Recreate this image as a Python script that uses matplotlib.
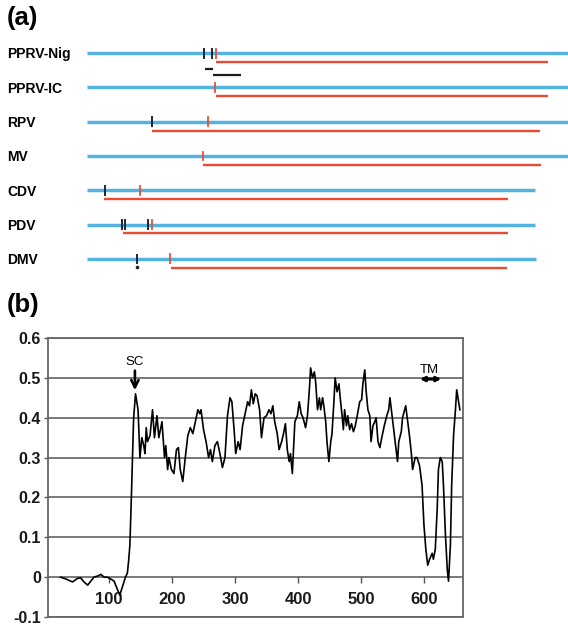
"""Two-panel figure: (a) ORF maps of morbillivirus H genes, (b) hydrophobicity profile."""
import matplotlib as mpl
mpl.use("Agg")
import matplotlib.pyplot as plt

# ---- panel (a): gene maps (arbitrary length units) ----
viruses = ["PPRV-Nig", "PPRV-IC", "RPV", "MV", "CDV", "PDV", "DMV"]
gene_end = [481, 481, 481, 481, 448, 448, 449]
orf_start = [129, 129, 65, 116, 17, 36, 84]
orf_end = [461, 461, 453, 454, 421, 421, 420]
black_marks = [[117, 125], [], [65], [], [18], [35, 38, 61], [50]]
red_marks = [129, 128, 121, 116, 53, 65, 83]
# short black bars under PPRV-Nig: (start, end, row offset)
extra_bars = [(118, 126, 0.47), (126, 154, 0.64)]

# ---- panel (b): hydrophobicity profile ----
pos = [23, 32, 42, 50, 55, 60, 66, 71, 76, 82, 87, 92, 97, 103, 108, 113, 117,
       122, 126, 129, 131, 133, 135, 137, 139, 142, 146, 149, 152, 155, 157,
       159, 161, 165, 169, 172, 176, 179, 184, 188, 190, 193, 195, 199, 203,
       207, 210, 213, 217, 221, 225, 229, 233, 237, 241, 244, 246, 250, 254,
       258, 261, 264, 268, 272, 276, 280, 284, 288, 292, 295, 299, 301, 305,
       308, 312, 316, 320, 323, 326, 329, 332, 335, 339, 342, 346, 350, 354,
       357, 360, 363, 367, 370, 374, 377, 380, 383, 386, 388, 391, 395, 399,
       402, 405, 408, 412, 415, 418, 420, 423, 426, 428, 431, 434, 436, 439,
       441, 444, 446, 449, 452, 454, 457, 459, 462, 465, 467, 470, 472, 474,
       477, 479, 482, 485, 488, 491, 494, 498, 501, 503, 506, 508, 511, 514,
       516, 519, 522, 524, 527, 530, 533, 537, 541, 544, 546, 549, 552, 555,
       558, 560, 564, 566, 571, 573, 577, 580, 582, 586, 589, 593, 597, 600,
       603, 606, 609, 613, 615, 618, 621, 623, 626, 629, 631, 634, 637, 639,
       642, 644, 647, 650, 652, 655, 657]
hydro = [0.00, -0.005, -0.012, -0.003, -0.002, -0.012, -0.02, -0.01, 0.0,
         0.003, 0.007, 0.0, 0.0, -0.005, -0.01, -0.03, -0.045, -0.02, 0.0,
         0.01, 0.04, 0.08, 0.18, 0.29, 0.40, 0.46, 0.42, 0.30, 0.35, 0.33,
         0.31, 0.375, 0.34, 0.355, 0.42, 0.35, 0.405, 0.35, 0.39, 0.30, 0.33,
         0.27, 0.30, 0.27, 0.26, 0.32, 0.325, 0.27, 0.24, 0.30, 0.355, 0.375,
         0.36, 0.39, 0.42, 0.41, 0.42, 0.37, 0.34, 0.30, 0.32, 0.29, 0.33,
         0.34, 0.31, 0.275, 0.30, 0.405, 0.45, 0.44, 0.36, 0.31, 0.34, 0.32,
         0.38, 0.41, 0.44, 0.43, 0.47, 0.435, 0.46, 0.455, 0.42, 0.35, 0.40,
         0.405, 0.42, 0.41, 0.43, 0.39, 0.36, 0.32, 0.34, 0.36, 0.385, 0.32,
         0.29, 0.31, 0.26, 0.39, 0.405, 0.44, 0.41, 0.40, 0.375, 0.405, 0.47,
         0.525, 0.50, 0.515, 0.49, 0.42, 0.45, 0.42, 0.45, 0.43, 0.39, 0.34,
         0.29, 0.34, 0.36, 0.44, 0.50, 0.465, 0.485, 0.45, 0.405, 0.37, 0.42,
         0.38, 0.405, 0.37, 0.385, 0.365, 0.38, 0.405, 0.44, 0.445, 0.485,
         0.52, 0.47, 0.42, 0.405, 0.34, 0.38, 0.39, 0.40, 0.34, 0.325, 0.35,
         0.38, 0.405, 0.42, 0.45, 0.41, 0.37, 0.33, 0.29, 0.34, 0.365, 0.40,
         0.43, 0.405, 0.355, 0.31, 0.27, 0.30, 0.30, 0.28, 0.23, 0.13, 0.07,
         0.03, 0.045, 0.06, 0.045, 0.07, 0.17, 0.27, 0.30, 0.29, 0.23, 0.11,
         0.02, -0.01, 0.08, 0.23, 0.355, 0.42, 0.47, 0.44, 0.42]
xticks_b = [100, 200, 300, 400, 500, 600]
yticks_b = [-0.1, 0, 0.1, 0.2, 0.3, 0.4, 0.5, 0.6]

BLUE = "#55b3e2"
RED = "#ec4b33"
W, H = 568, 626

fig = plt.figure(figsize=(W / 100, H / 100), dpi=100)

# ---------------- (a) ----------------
axa = fig.add_axes([87 / W, 1 - 276 / H, 481 / W, 240 / H])
axa.set_xlim(0, 481)
axa.set_ylim(6.5, -0.5)
axa.axis("off")

for i, name in enumerate(viruses):
    axa.plot([0, gene_end[i]], [i, i], color=BLUE, lw=2.5,
             solid_capstyle="butt", clip_on=False)
    axa.plot([orf_start[i], orf_end[i]], [i + 0.26, i + 0.26], color=RED,
             lw=1.7, solid_capstyle="butt")
    for m in black_marks[i]:
        if name == "DMV":
            axa.plot([m, m], [i - 0.12, i + 0.12], color="#1b2633", lw=1.4)
            axa.plot(m, i + 0.23, "o", color="#1b2633", ms=1.6)
        else:
            axa.plot([m, m], [i - 0.13, i + 0.13], color="#1b2633", lw=1.4)
    rm = red_marks[i]
    axa.plot([rm, rm], [i - 0.13, i + 0.13], color=RED, lw=1.3)
    axa.text(-80, i + 0.155, name, fontsize=10, fontweight="bold",
             family="Liberation Sans", ha="left", va="baseline", clip_on=False)

for x0, x1, off in extra_bars:
    axa.plot([x0, x1], [off, off], color="#1b1b1b", lw=1.6,
             solid_capstyle="butt")

fig.text(7 / W, 1 - 18 / H, "(a)", fontsize=18.5, fontweight="bold",
         family="Liberation Sans", ha="left", va="center")

# ---------------- (b) ----------------
axb = fig.add_axes([48 / W, 9 / H, 415 / W, 279 / H])
axb.plot(pos, hydro, color="black", lw=1.2)
axb.set_xlim(3, 662)
axb.set_ylim(-0.1, 0.6)
axb.set_yticks(yticks_b)
axb.set_yticklabels([f"{v:g}" for v in yticks_b])
axb.yaxis.grid(True, color="#555555", lw=1.1)
axb.set_axisbelow(True)
axb.tick_params(axis="x", bottom=False, labelbottom=False)
axb.tick_params(axis="y", direction="out", length=3, width=1, color="#555555",
                pad=2, labelsize=11.5, labelcolor="#1a1a1a")
for lab in axb.get_yticklabels():
    lab.set_family("Liberation Sans")
    lab.set_fontweight("bold")
for sp in axb.spines.values():
    sp.set_color("#666666")
    sp.set_linewidth(1.3)

sec = axb.secondary_xaxis(1 / 7)
sec.set_xticks(xticks_b)
sec.spines["bottom"].set_visible(False)
sec.tick_params(direction="out", length=4, width=1, color="#555555", pad=7,
                labelsize=12, labelcolor="#1a1a1a")
for lab in sec.get_xticklabels():
    lab.set_family("Liberation Sans")
    lab.set_fontweight("bold")

axb.annotate("", xy=(141, 0.462), xytext=(141, 0.525),
             arrowprops=dict(arrowstyle="->", color="black", lw=1.9,
                             mutation_scale=13))
axb.text(141, 0.525, "SC", fontsize=9.5, family="Liberation Sans",
         ha="center", va="bottom")
axb.annotate("", xy=(589, 0.497), xytext=(632, 0.497),
             arrowprops=dict(arrowstyle="<->", color="black", lw=2.2,
                             mutation_scale=6))
axb.text(609, 0.505, "TM", fontsize=9.5, family="Liberation Sans",
         ha="center", va="bottom")

fig.text(7 / W, 1 - 305 / H, "(b)", fontsize=18.5, fontweight="bold",
         family="Liberation Sans", ha="left", va="center")

fig.savefig("out.png", dpi=100)
